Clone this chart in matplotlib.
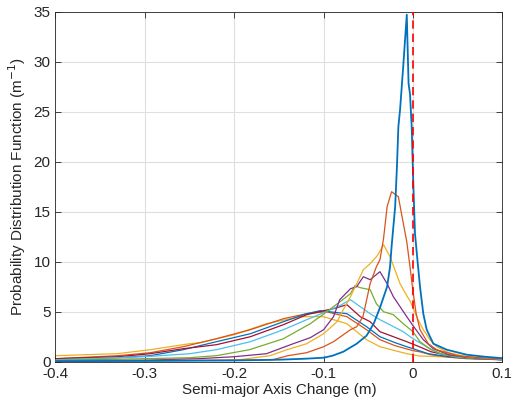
import matplotlib
matplotlib.use("Agg")
import matplotlib.pyplot as plt

plt.rcParams['font.family'] = ['Liberation Sans', 'DejaVu Sans']

# MATLAB default colour order
colors = ['#0072BD', '#D95319', '#EDB120', '#7E2F8E', '#77AC30', '#4DBEEE', '#A2142F',
          '#0072BD', '#D95319', '#EDB120']

# curves (x in m, pdf in 1/m)
blue1_x = [-0.4, -0.3, -0.2, -0.15, -0.12, -0.1, -0.09, -0.078, -0.063, -0.052, -0.044, -0.037,
           -0.029, -0.0257, -0.024, -0.020, -0.018, -0.0164, -0.0145, -0.011, -0.007, -0.005,
           -0.0034, -0.0015, 0.0004, 0.0022, 0.0049, 0.0078, 0.0115, 0.0153, 0.0227, 0.0377,
           0.06, 0.08, 0.1]
blue1_y = [0.05, 0.08, 0.12, 0.2, 0.3, 0.4, 0.6, 1.0, 1.8, 2.6, 3.8, 5.4,
           7.5, 9.5, 11.5, 15.5, 19.5, 23.5, 25.2, 29.5, 34.7, 27.8,
           26.8, 23.5, 17.5, 12.8, 10.2, 7.5, 4.8, 3.2, 1.8, 1.2,
           0.7, 0.5, 0.35]

orange1_x = [-0.4, -0.3, -0.2, -0.157, -0.14, -0.119, -0.1, -0.089, -0.07, -0.063, -0.056, -0.048,
             -0.041, -0.037, -0.033, -0.029, -0.024, -0.0164, -0.0127, -0.007, -0.0034, 0.0,
             0.0035, 0.0078, 0.017, 0.0265, 0.05, 0.075, 0.1]
orange1_y = [0.05, 0.1, 0.15, 0.2, 0.6, 0.9, 1.5, 2.0, 3.2, 3.5, 4.5, 7.8,
             9.5, 10.2, 12.3, 15.5, 17.0, 16.5, 14.7, 12.0, 9.5, 7.0,
             4.8, 3.2, 1.8, 1.2, 0.6, 0.4, 0.3]

yellow1_x = [-0.4, -0.3, -0.22, -0.194, -0.16, -0.141, -0.119, -0.1, -0.085, -0.078, -0.07, -0.063,
             -0.0556, -0.048, -0.04, -0.033, -0.0257, -0.0145, -0.007, -0.0034, 0.0, 0.005,
             0.0115, 0.019, 0.0265, 0.04, 0.06, 0.08, 0.1]
yellow1_y = [0.05, 0.1, 0.15, 0.2, 0.6, 1.2, 1.8, 2.8, 4.0, 5.2, 6.5, 7.8,
             9.2, 9.8, 10.6, 11.7, 10.5, 7.8, 6.6, 6.1, 5.4, 4.3,
             3.2, 2.2, 1.5, 0.9, 0.5, 0.35, 0.25]

purple_x = [-0.4, -0.3, -0.24, -0.2, -0.164, -0.134, -0.115, -0.1, -0.089, -0.082, -0.07, -0.063,
            -0.0556, -0.048, -0.037, -0.029, -0.022, -0.0145, -0.007, 0.0, 0.0115, 0.0227,
            0.04, 0.06, 0.08, 0.1]
purple_y = [0.1, 0.15, 0.3, 0.5, 0.8, 1.8, 2.4, 3.2, 4.5, 6.2, 7.3, 7.5,
            8.5, 8.2, 9.0, 7.8, 6.5, 5.5, 4.5, 3.6, 2.2, 1.3,
            0.7, 0.45, 0.3, 0.2]

green_x = [-0.4, -0.3, -0.25, -0.22, -0.183, -0.145, -0.115, -0.104, -0.089, -0.07, -0.065, -0.059,
           -0.048, -0.041, -0.033, -0.022, -0.011, 0.0, 0.0078, 0.02, 0.035, 0.06, 0.08, 0.1]
green_y = [0.15, 0.3, 0.4, 0.6, 1.2, 2.3, 3.8, 4.5, 5.5, 6.8, 7.6, 7.4,
           7.2, 5.8, 5.0, 4.7, 3.8, 3.0, 2.0, 1.2, 0.7, 0.4, 0.3, 0.2]

ltblue_x = [-0.4, -0.3, -0.25, -0.22, -0.182, -0.145, -0.119, -0.1, -0.082, -0.07, -0.059,
            -0.048, -0.037, -0.026, -0.011, 0.0, 0.015, 0.03, 0.05, 0.075, 0.1]
ltblue_y = [0.2, 0.5, 0.8, 1.2, 2.0, 3.2, 4.2, 4.9, 5.6, 6.2, 5.5,
            4.8, 4.2, 3.7, 3.0, 2.3, 1.5, 0.8, 0.45, 0.3, 0.2]

darkred_x = [-0.4, -0.33, -0.294, -0.257, -0.22, -0.182, -0.145, -0.119, -0.1, -0.089, -0.074,
             -0.059, -0.048, -0.037, -0.022, -0.007, 0.007, 0.02, 0.04, 0.06, 0.08, 0.1]
darkred_y = [0.3, 0.5, 0.8, 1.3, 1.7, 2.5, 3.7, 4.7, 5.1, 5.3, 5.7,
             4.5, 4.0, 3.0, 2.5, 2.0, 1.5, 1.0, 0.6, 0.4, 0.3, 0.25]

blue2_x = [-0.4, -0.33, -0.294, -0.257, -0.22, -0.182, -0.145, -0.119, -0.104, -0.074,
           -0.052, -0.037, -0.02, -0.007, 0.0, 0.017, 0.04, 0.06, 0.08, 0.1]
blue2_y = [0.25, 0.4, 0.6, 1.2, 2.0, 2.8, 4.0, 4.8, 5.1, 4.8,
           3.5, 2.5, 1.9, 1.5, 1.3, 0.8, 0.5, 0.35, 0.25, 0.2]

orange2_x = [-0.4, -0.33, -0.294, -0.257, -0.22, -0.182, -0.145, -0.119, -0.097, -0.074,
             -0.052, -0.037, -0.02, 0.0, 0.007, 0.02, 0.04, 0.06, 0.08, 0.1]
orange2_y = [0.3, 0.6, 0.9, 1.5, 2.3, 3.2, 4.3, 4.8, 5.0, 4.5,
             3.2, 2.2, 1.6, 1.1, 1.0, 0.7, 0.45, 0.3, 0.25, 0.2]

yellow2_x = [-0.4, -0.331, -0.294, -0.25, -0.238, -0.2, -0.164, -0.126, -0.1, -0.074,
             -0.052, -0.037, -0.02, -0.007, 0.007, 0.03, 0.05, 0.075, 0.1]
yellow2_y = [0.6, 0.8, 1.2, 1.8, 1.9, 2.7, 3.8, 4.5, 4.5, 3.8,
             2.2, 1.5, 1.1, 0.8, 0.57, 0.5, 0.4, 0.3, 0.25]

curves = [(blue1_x, blue1_y), (orange1_x, orange1_y), (yellow1_x, yellow1_y),
          (purple_x, purple_y), (green_x, green_y), (ltblue_x, ltblue_y),
          (darkred_x, darkred_y), (blue2_x, blue2_y), (orange2_x, orange2_y),
          (yellow2_x, yellow2_y)]

fig = plt.figure(figsize=(5.11, 4.07), dpi=100)
ax = fig.add_axes([0.1086, 0.1113, 0.8746, 0.86])

for i, ((cx, cy), c) in enumerate(zip(curves, colors)):
    ax.plot(cx, cy, color=c, lw=1.3 if i == 0 else 0.9, zorder=3 - i * 0.1)

ax.axvline(0, color='red', lw=1.2, ls=(0, (5, 3)), zorder=4)

ax.set_xlim(-0.4, 0.1)
ax.set_ylim(0, 35)
ax.set_xticks([-0.4, -0.3, -0.2, -0.1, 0, 0.1])
ax.set_xticklabels(['-0.4', '-0.3', '-0.2', '-0.1', '0', '0.1'])
ax.set_yticks(range(0, 36, 5))
ax.grid(True, color='#dfdfdf', lw=0.8)
ax.set_axisbelow(True)
ax.tick_params(direction='in', top=True, right=True, length=4, width=0.6,
               labelsize=11, colors='#262626')
for s in ax.spines.values():
    s.set_color('#262626')
    s.set_linewidth(0.6)

ax.set_xlabel('Semi-major Axis Change (m)', fontsize=11, color='#262626', labelpad=2)
ax.set_ylabel('Probability Distribution Function (m$^{-1}$)', fontsize=11,
              color='#262626', labelpad=4)

fig.savefig('out.png', dpi=100)
